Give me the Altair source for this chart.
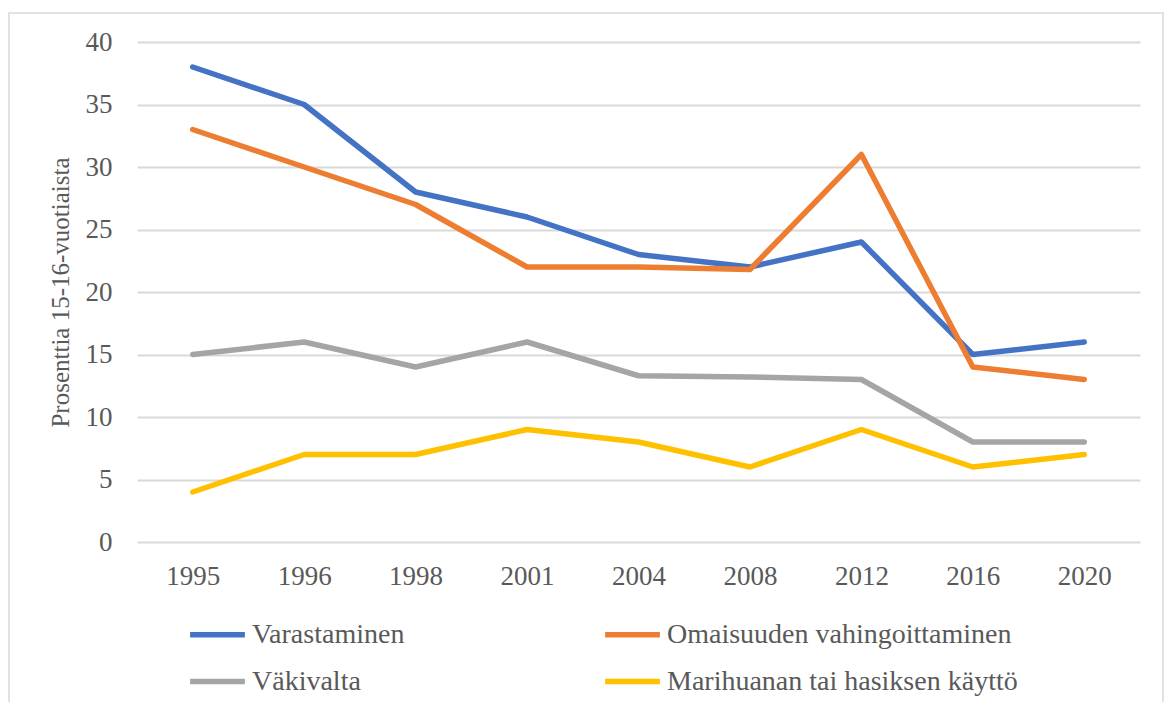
import altair as alt
import pandas as pd

years = ["1995", "1996", "1998", "2001", "2004", "2008", "2012", "2016", "2020"]
series_names = ["Varastaminen", "Omaisuuden vahingoittaminen", "Väkivalta",
                "Marihuanan tai hasiksen käyttö"]
varastaminen = [38, 35, 28, 26, 23, 22, 24, 15, 16]
omaisuus = [33, 30, 27, 22, 22, 21.8, 31, 14, 13]
vakivalta = [15, 16, 14, 16, 13.3, 13.2, 13, 8, 8]
marihuana = [4, 7, 7, 9, 8, 6, 9, 6, 7]
colors = ["#4472C4", "#ED7D31", "#A5A5A5", "#FFC000"]

rows = []
for name, vals in zip(series_names, [varastaminen, omaisuus, vakivalta, marihuana]):
    for y, v in zip(years, vals):
        rows.append({"Vuosi": y, "Sarja": name, "Arvo": v})
df = pd.DataFrame(rows)

W, H = 1003, 500
FONT = "Liberation Serif, Times New Roman, serif"

border = alt.Chart(pd.DataFrame({"a": [0]})).mark_rect(
    fill=None, stroke="#d9d9d9", strokeWidth=1.5, clip=False
).encode(
    x=alt.value(-128), x2=alt.value(1026), y=alt.value(-29), y2=alt.value(665)
)

lines = alt.Chart(df).mark_line(strokeWidth=5.5, strokeCap="round", strokeJoin="round").encode(
    x=alt.X("Vuosi:N", sort=years, title=None,
            scale=alt.Scale(paddingInner=0, paddingOuter=0.5),
            axis=alt.Axis(labelAngle=0, ticks=False, domain=False, grid=False,
                          labelFont=FONT, labelFontSize=27, labelColor="#595959",
                          labelPadding=21)),
    y=alt.Y("Arvo:Q", title="Prosenttia 15-16-vuotiaista",
            scale=alt.Scale(domain=[0, 40], nice=False),
            axis=alt.Axis(values=[0, 5, 10, 15, 20, 25, 30, 35, 40], ticks=False, domain=False,
                          grid=True, gridColor="#d9d9d9", gridWidth=2,
                          labelFont=FONT, labelFontSize=27, labelColor="#595959",
                          labelPadding=25, titleFont=FONT, titleFontSize=25,
                          titleColor="#595959", titleFontWeight="normal", titlePadding=12)),
    color=alt.Color("Sarja:N", sort=series_names,
                    scale=alt.Scale(domain=series_names, range=colors),
                    legend=alt.Legend(title=None, orient="none", legendX=50, legendY=562,
                                      direction="horizontal",
                                      columns=2, columnPadding=189, rowPadding=2,
                                      symbolType="stroke", symbolStrokeWidth=5.5,
                                      symbolSize=3000, labelFont=FONT, labelFontSize=28,
                                      labelColor="#595959", labelOffset=4, padding=0,
                                      labelLimit=600)),
    order=alt.Order("Sarja:N")
)

chart = alt.layer(border, lines).properties(
    width=W, height=H,
    autosize=alt.AutoSizeParams(type="none"),
    padding={"left": 129, "top": 34, "right": 27, "bottom": 160},
    background="white"
).configure_view(stroke=None)

chart.save("out.html", embed_options={"renderer": "svg", "actions": False})
